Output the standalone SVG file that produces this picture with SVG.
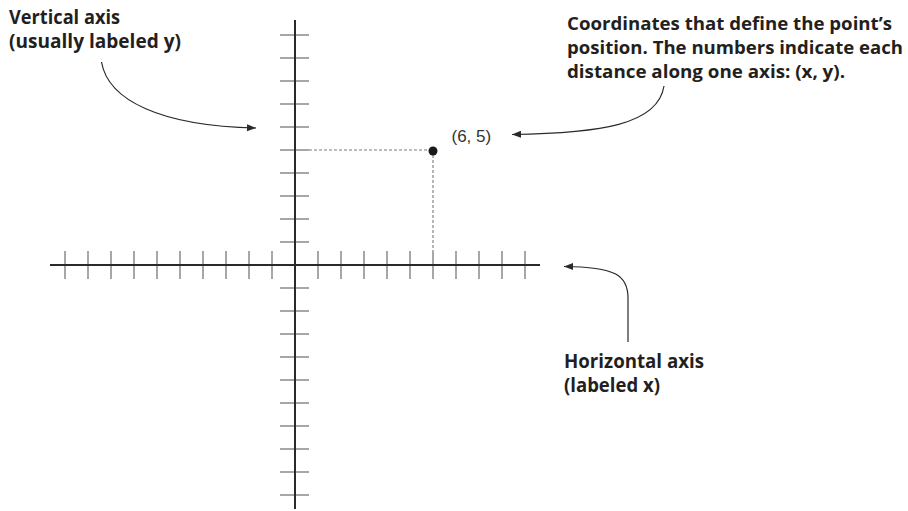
<svg xmlns="http://www.w3.org/2000/svg" width="908" height="511" viewBox="0 0 908 511">
  <style>
    .axis { stroke: #2a2a2a; stroke-width: 2; fill: none; }
    .tick { stroke: #8a8a8a; stroke-width: 1.5; fill: none; }
    .dash { stroke: #7a7a7a; stroke-width: 1.1; stroke-dasharray: 3 2; fill: none; }
    .conn { stroke: #2a2a2a; stroke-width: 1.2; fill: none; marker-end: url(#arrow); }
    .lbl { font-family: "Open Sans", "Noto Sans", "DejaVu Sans", sans-serif; font-weight: 700; font-size: 19px; fill: #231f20; }
    .lbl.sm { font-size: 18.5px; }
    .coord { font-family: "Liberation Sans", Arial, sans-serif; font-size: 17px; fill: #333333; }
  </style>
  <defs>
    <marker id="arrow" markerUnits="userSpaceOnUse" markerWidth="10" markerHeight="8" refX="9" refY="4" orient="auto">
      <path d="M0,0.5 L9,4 L0,7.5 z" fill="#2a2a2a"/>
    </marker>
  </defs>
  <rect width="908" height="511" fill="#ffffff"/>

  <g id="x-axis">
    <path class="tick" d="M65,251V279 M88,251V279 M111,251V279 M134,251V279 M157,251V279 M180,251V279 M203,251V279 M226,251V279 M249,251V279 M272,251V279 M318,251V279 M341,251V279 M364,251V279 M387,251V279 M410,251V279 M433,251V279 M456,251V279 M479,251V279 M502,251V279 M525,251V279"/>
    <line class="axis" x1="50" y1="265" x2="540" y2="265"/>
  </g>

  <g id="y-axis">
    <path class="tick" d="M280,35H309 M280,58H309 M280,81H309 M280,104H309 M280,127H309 M280,150H309 M280,173H309 M280,196H309 M280,219H309 M280,242H309 M280,288H309 M280,311H309 M280,334H309 M280,357H309 M280,380H309 M280,403H309 M280,426H309 M280,449H309 M280,472H309 M280,495H309"/>
    <line class="axis" x1="295" y1="20" x2="295" y2="509"/>
  </g>

  <g id="point">
    <path class="dash" d="M309,150H430 M433,155V251"/>
    <circle cx="433" cy="151" r="4.5" fill="#1a1a1a"/>
    <text class="coord" x="451.5" y="141.5">(6, 5)</text>
  </g>

  <g id="label-vertical">
    <text class="lbl" x="9" y="24" textLength="111" lengthAdjust="spacingAndGlyphs">Vertical axis</text>
    <text class="lbl" x="9" y="48" textLength="172" lengthAdjust="spacingAndGlyphs">(usually labeled y)</text>
  </g>

  <g id="label-coordinates">
    <text class="lbl sm" x="567" y="30" textLength="325" lengthAdjust="spacingAndGlyphs">Coordinates that define the point’s</text>
    <text class="lbl sm" x="567" y="54" textLength="336" lengthAdjust="spacingAndGlyphs">position. The numbers indicate each</text>
    <text class="lbl sm" x="567" y="78" textLength="278" lengthAdjust="spacingAndGlyphs">distance along one axis: (x, y).</text>
  </g>

  <g id="label-horizontal">
    <text class="lbl" x="564" y="368" textLength="140" lengthAdjust="spacingAndGlyphs">Horizontal axis</text>
    <text class="lbl" x="564" y="392" textLength="96" lengthAdjust="spacingAndGlyphs">(labeled x)</text>
  </g>

  <g id="connectors">
    <path class="conn" d="M101.5,62 C108,100 160,126 256,128"/>
    <path class="conn" d="M664,86 C658,125 600,133 512,134.5"/>
    <path class="conn" d="M628,342 V298 C628,275 615,267 564,266.5"/>
  </g>
</svg>
